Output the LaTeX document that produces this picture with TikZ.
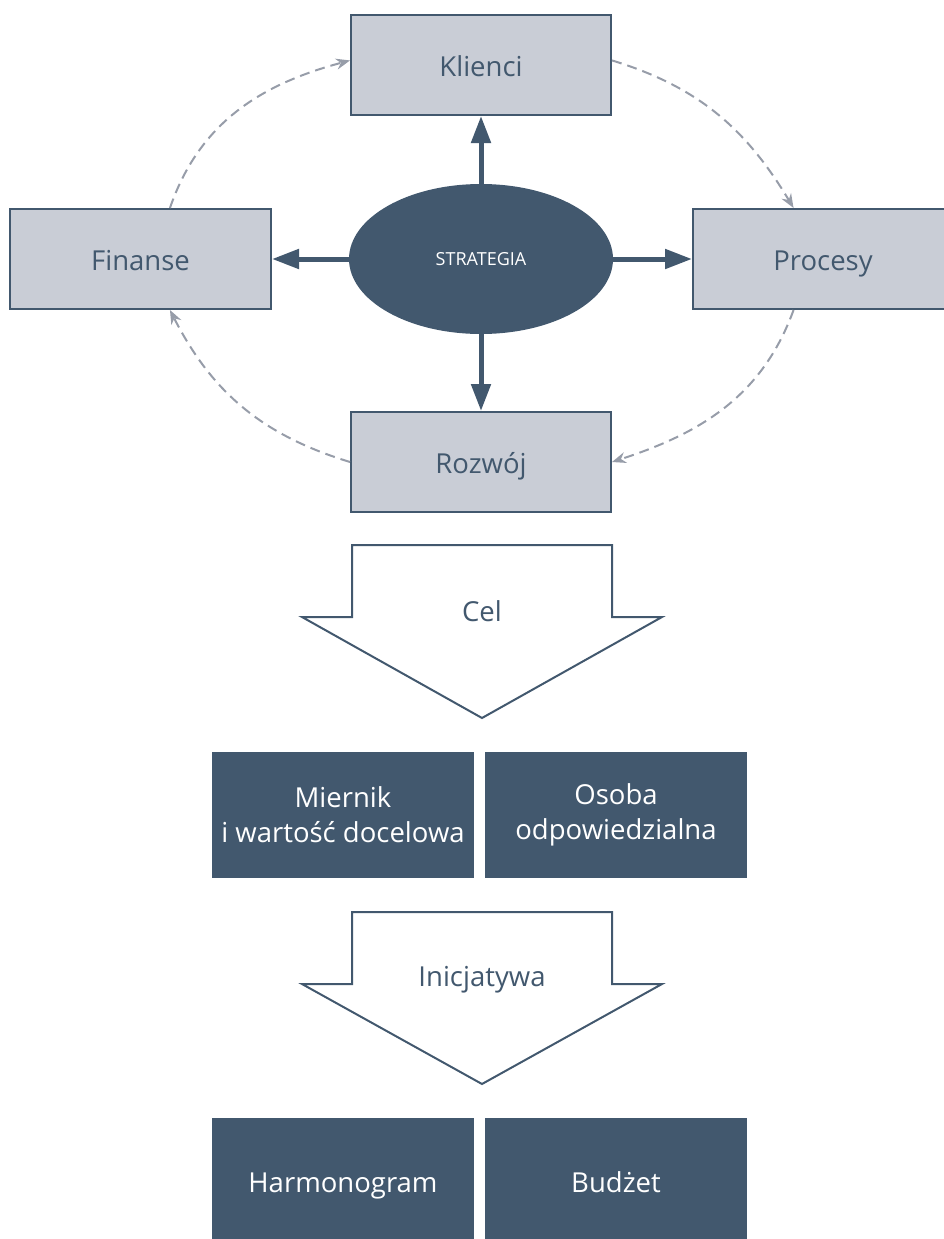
\documentclass[tikz,border=0pt]{standalone}
\usepackage{fontspec}
\setmainfont{Open Sans}
\usetikzlibrary{arrows.meta,shapes.geometric}

\definecolor{slate}{HTML}{42586E}
\definecolor{mist}{HTML}{C9CDD6}
\definecolor{haze}{HTML}{979DA9}

\tikzset{
  perspective/.style={draw=slate, fill=mist, line width=2pt,
    minimum width=260pt, minimum height=100pt, inner sep=0pt,
    text=slate, font=\fontsize{27.5}{32}\selectfont,
    text height=26pt, text depth=2.5pt},
  measure/.style={fill=slate, minimum width=262pt, minimum height=126pt,
    inner sep=0pt, text=white, align=center,
    font=\fontsize{27.5}{35}\selectfont},
  oneline/.style={text height=26pt, text depth=2.5pt},
  push/.style={draw=slate, line width=5pt,
    -{Triangle[length=27pt,width=19pt]}},
  flow/.style={draw=haze, line width=2pt, dash pattern=on 10pt off 6pt,
    -{Stealth[length=14pt,width=11pt]}},
  blockarrow/.style={draw=slate, fill=white, line width=2pt},
  caption/.style={text=slate, font=\fontsize{27.5}{32}\selectfont,
    text height=26pt, text depth=2.5pt}
}

\begin{document}
\begin{tikzpicture}[x=1pt,y=1pt]
  \useasboundingbox (0,0) rectangle (943,-1239);

  % strategy in the middle
  \node[ellipse, fill=slate, minimum width=264pt, minimum height=150pt,
    inner sep=0pt, text=white, font=\fontsize{18}{20}\selectfont]
    (strategia) at (481,-259) {STRATEGIA};

  % four perspectives round it
  \node[perspective] (klienci) at (481,-65) {Klienci};
  \node[perspective, minimum width=261pt] (finanse) at (140.5,-259) {Finanse};
  \node[perspective] (procesy) at (823,-259) {Procesy};
  \node[perspective] (rozwoj) at (481,-462) {Rozwój};

  % strategy pushes out to each perspective
  \draw[push] (strategia.north) -- (klienci.south);
  \draw[push] (strategia.west) -- (finanse.east);
  \draw[push] (strategia.east) -- (procesy.west);
  \draw[push] (strategia.south) -- (rozwoj.north);

  % dashed cycle between the perspectives
  \draw[flow] (finanse.60) to[out=71, in=195] (klienci.178);
  \draw[flow] (klienci.2) to[out=-17, in=121] (procesy.120);
  \draw[flow] (procesy.-120) to[out=-110, in=18] (rozwoj.east);
  \draw[flow] (rozwoj.west) to[out=163, in=-63] (finanse.-60);

  % first block arrow
  \filldraw[blockarrow] (352,-545) -- (612,-545) -- (612,-617) -- (662,-617)
    -- (482,-718) -- (302,-617) -- (352,-617) -- cycle;
  \node[caption] (cel) at (482,-610) {Cel};

  % goal boxes
  \node[measure] (miernik) at (343,-815) {Miernik\\i wartość docelowa};
  \node[measure] (osoba) at (616,-815) {Osoba\\odpowiedzialna};

  % second block arrow
  \filldraw[blockarrow] (352,-912) -- (612,-912) -- (612,-984) -- (662,-984)
    -- (482,-1084) -- (302,-984) -- (352,-984) -- cycle;
  \node[caption] (inicjatywa) at (482,-975) {Inicjatywa};

  % initiative boxes
  \node[measure, oneline] (harmonogram) at (343,-1181) {Harmonogram};
  \node[measure, oneline] (budzet) at (616,-1181) {Budżet};

\end{tikzpicture}
\end{document}
